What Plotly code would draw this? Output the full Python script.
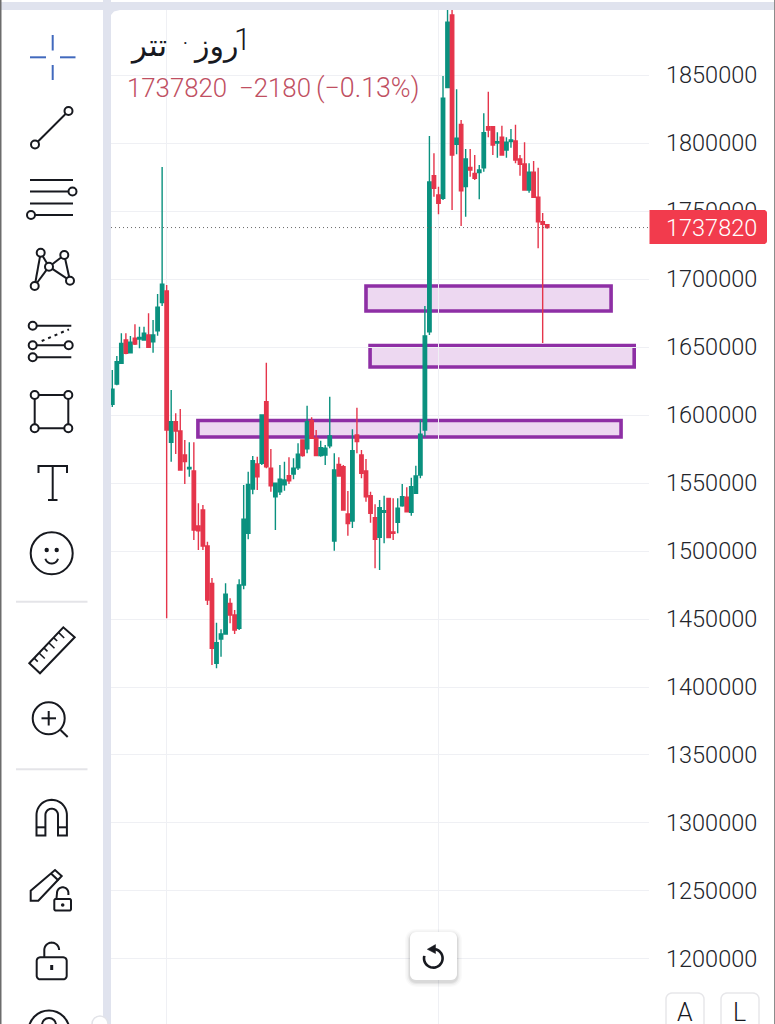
import math
import plotly.graph_objects as go

W, H = 775, 1024

open_ = [1607900,1622800,1638000,1655100,1645800,1656400,1655900,1655100,1658800,1653900,1662000,1682600,1691200,1579900,1595100,1588200,1570600,1560500,1558800,1518400,1530100,1503700,1476200,1417400,1435300,1439000,1461500,1452900,1443200,1475000,1513000,1545600,1564000,1564500,1609800,1560800,1539900,1543600,1548700,1555400,1556600,1561200,1581600,1575200,1595800,1582900,1570100,1570600,1577400,1507400,1563700,1562000,1527200,1522100,1585300,1570600,1558800,1540700,1524500,1510100,1528500,1538700,1514000,1521100,1533300,1539500,1528500,1542400,1555900,1589000,1661200,1776000,1761800,1759300,1840700,1894100,1799000,1813700,1767900,1782100,1777700,1778200,1781800,1812000,1812000,1800000,1804200,1794900,1801000,1801500,1788200,1784600,1765400,1778500,1760100,1742100,1740000]
high = [1633100,1643400,1660100,1660100,1658100,1666700,1664900,1664900,1674800,1669900,1689000,1782400,1695600,1618400,1601200,1604400,1581600,1579900,1579900,1535100,1533800,1506800,1480100,1447300,1442400,1476200,1465200,1456600,1479200,1548500,1558300,1569900,1569300,1600400,1638500,1575000,1550200,1563200,1565700,1568900,1568200,1579200,1582000,1606800,1598300,1589000,1581100,1577900,1613500,1571800,1568900,1563200,1544100,1589500,1605400,1574300,1567600,1543600,1534300,1537500,1540700,1539200,1538700,1538700,1549300,1546800,1553900,1562700,1596300,1680100,1805100,1792400,1767900,1849300,1897800,1897800,1839500,1816900,1795600,1795600,1791200,1783800,1821800,1837700,1812500,1807900,1812700,1804200,1810300,1813500,1791200,1800500,1785100,1786800,1781800,1748500,1740000]
low = [1605900,1621800,1637500,1644600,1645500,1651500,1649000,1654600,1649500,1645800,1658300,1680100,1450500,1565700,1571300,1559200,1549300,1554600,1508100,1500700,1500700,1460300,1416200,1413700,1422300,1438700,1446800,1439000,1441900,1471800,1508600,1541700,1544900,1563200,1560800,1543600,1515400,1541200,1544300,1549300,1552700,1559600,1569300,1571800,1582400,1569900,1569300,1563200,1575500,1500200,1554900,1529900,1511200,1516900,1571800,1553500,1536200,1520800,1487300,1486000,1505700,1509300,1508100,1513000,1532600,1528500,1526000,1541900,1553500,1584000,1658800,1760500,1747600,1758100,1840400,1750700,1791700,1739000,1745800,1775200,1772800,1758600,1778900,1804200,1791200,1789200,1790700,1789200,1796500,1785100,1776000,1764900,1763500,1759800,1722600,1652900,1737000]
close = [1618900,1639200,1652700,1645400,1653500,1652200,1657100,1660100,1649800,1658800,1679200,1696100,1589000,1595100,1588200,1559600,1565700,1561500,1515400,1514900,1503700,1464000,1428500,1432600,1439000,1468200,1452900,1441900,1475000,1523300,1549000,1566400,1554600,1600000,1562000,1548000,1549800,1552700,1552200,1551700,1560800,1571100,1570100,1595100,1582900,1570100,1576000,1575500,1584600,1559600,1555100,1530100,1520100,1573700,1580400,1557100,1539900,1527700,1508600,1531800,1529600,1509800,1513000,1531400,1539900,1528900,1547300,1555100,1585800,1658100,1771300,1766700,1755700,1832900,1888800,1791200,1803500,1764900,1788200,1780100,1774000,1780100,1807600,1809600,1798500,1801000,1791200,1800500,1802200,1787500,1784300,1765400,1778500,1760100,1742100,1740200,1737820]
candle_index = list(range(len(open_)))

y_ticks = [1200000,1250000,1300000,1350000,1400000,1450000,1500000,1550000,1600000,1650000,1700000,1750000,1800000,1850000]
grid_candles = [12, 72]
last_price = 1737820
zone_start = [56.0, 56.9, 18.9]
zone_end = [110.1, 115.2, 112.3]
zone_top = [1694900, 1651100, 1596000]
zone_bottom = [1676500, 1635300, 1583800]

title_parts = ["تتر", "·", "روز", "1"]
price_line = ["1737820", "−2180", "(−0.13%)"]

INK = "#17191f"
LAV = "#e0e3ee"
ZONE_LINE = "#8e2fa5"
ZONE_FILL = "rgba(206,147,216,0.36)"
GREEN = "#0a917f"
RED = "#e5354b"


def X(x):
    return x / W


def Y(y):
    return 1 - y / H


def P(points, closed=False):
    s = "M" + " L".join(f"{X(a):.5f},{Y(b):.5f}" for a, b in points)
    return s + (" Z" if closed else "")


def arc(cx, cy, r, a0, a1, n=28):
    return [(cx + r * math.cos(math.radians(a0 + (a1 - a0) * k / n)),
             cy + r * math.sin(math.radians(a0 + (a1 - a0) * k / n))) for k in range(n + 1)]


def rrect(x0, y0, x1, y1, r, corners=(1, 1, 1, 1)):
    pts = []
    cs = [(x1 - r, y0 + r, -90, 0, corners[0], (x1, y0)),
          (x1 - r, y1 - r, 0, 90, corners[1], (x1, y1)),
          (x0 + r, y1 - r, 90, 180, corners[2], (x0, y1)),
          (x0 + r, y0 + r, 180, 270, corners[3], (x0, y0))]
    for cx, cy, a, b, on, sharp in cs:
        pts += arc(cx, cy, r, a, b, 6) if on else [sharp]
    return pts


shapes = []


def path(points, color=INK, width=2, closed=False, fill=None, dash=None):
    line = dict(color=color, width=width)
    if dash:
        line["dash"] = dash
    shapes.append(dict(type="path", xref="paper", yref="paper", path=P(points, closed),
                       line=line, fillcolor=fill if fill else "rgba(0,0,0,0)", layer="above"))


def seg(x0, y0, x1, y1, color=INK, width=2, dash=None):
    path([(x0, y0), (x1, y1)], color, width, False, None, dash)


def circ(cx, cy, r, color=INK, width=2, fill="#ffffff"):
    shapes.append(dict(type="circle", xref="paper", yref="paper", x0=X(cx - r), x1=X(cx + r),
                       y0=Y(cy + r), y1=Y(cy - r), line=dict(color=color, width=width),
                       fillcolor=fill, layer="above"))


def block(x0, y0, x1, y1, color):
    shapes.append(dict(type="rect", xref="paper", yref="paper", x0=X(x0), x1=X(x1), y0=Y(y1), y1=Y(y0),
                       line=dict(width=0), fillcolor=color, layer="above"))


# page frame
block(0, 2, W, 10, LAV)
block(103, 0, 111, H, LAV)
path([(111, 10), (120, 10), (114, 11.5), (111, 15), (111, 20)], LAV, 0, True, LAV)
block(0, 0, 1.5, H, "#6c6c6c")
block(774, 0, W, H, "#8c8c8c")

# zones
for x0, x1, y0, y1 in zip(zone_start, zone_end, zone_bottom, zone_top):
    shapes.append(dict(type="rect", xref="x", yref="y", x0=x0, x1=x1, y0=y0, y1=y1,
                       line=dict(color=ZONE_LINE, width=3.6), fillcolor=ZONE_FILL, layer="below"))

# last price line and tag
shapes.append(dict(type="line", xref="paper", yref="y", x0=X(111), x1=X(649), y0=last_price, y1=last_price,
                   line=dict(color="#6a6a6a", width=1, dash="1px,3px"), layer="above"))
path(rrect(649.5, 210, 767, 244, 3, (1, 1, 0, 0)), "#f23b4d", 0, True, "#f23b4d")

# toolbar: crosshair
BLUE = "#4169bd"
seg(52.7, 35, 52.7, 50.5, BLUE); seg(52.7, 65, 52.7, 80, BLUE)
seg(30, 57.3, 46, 57.3, BLUE); seg(60, 57.3, 75.5, 57.3, BLUE)
# trend line
seg(35, 144.5, 68.5, 111); circ(35, 144.5, 4); circ(68.5, 111, 4)
# parallel lines
seg(30, 180, 73, 180); seg(30, 191.5, 70, 191.5); seg(30, 203.5, 73, 203.5); seg(32, 215, 73, 215)
circ(72.5, 191.5, 4); circ(31, 215, 4)
# pattern
pts = [(40.7, 252.7), (64.3, 255), (49, 266.7), (70, 280.7), (34.7, 286)]
for a, b in [(4, 0), (0, 2), (4, 2), (2, 1), (2, 3), (1, 3)]:
    seg(*pts[a], *pts[b])
for a, b in pts:
    circ(a, b, 4)
# channel
seg(33, 325.7, 71.3, 325.7); seg(33, 345.3, 69, 345.3); seg(33, 357.3, 71.3, 357.3)
seg(41.7, 341, 69, 329.3, INK, 2, "3px,4px")
circ(32.7, 325.7, 4); circ(32.7, 345.3, 4); circ(68.7, 345.3, 4); circ(32.7, 357.3, 4)
# rectangle
path([(34.7, 395), (68.3, 395), (68.3, 428.3), (34.7, 428.3)], INK, 2, True)
for a, b in [(34.7, 395), (68.3, 395), (34.7, 428.3), (68.3, 428.3)]:
    circ(a, b, 4)
# text tool
path([(38.5, 473), (38.5, 466), (67, 466), (67, 473)])
seg(52.7, 466, 52.7, 500); seg(48, 500, 57.5, 500)
# smile
circ(51.7, 553.3, 21, fill="rgba(0,0,0,0)")
circ(46.7, 550, 1.2, fill=INK); circ(56.7, 550, 1.2, fill=INK)
path(arc(51.7, 557, 6.5, 15, 165))
# dividers
seg(16, 601.7, 87.5, 601.7, "#e4e4e8"); seg(16, 769.3, 87.5, 769.3, "#e4e4e8")
# ruler
path([(29.3, 663.3), (63.3, 627.3), (74.7, 637.3), (40, 673.3)], INK, 2, True)
for k in range(1, 7):
    ax = 29.3 + (63.3 - 29.3) * k / 7
    ay = 663.3 + (627.3 - 663.3) * k / 7
    ln = 8 if k % 2 == 0 else 5
    seg(ax, ay, ax + ln * 0.72, ay + ln * 0.69, INK, 1.6)
# zoom
circ(48.7, 718.3, 16, fill="rgba(0,0,0,0)")
seg(41.5, 718.3, 56, 718.3); seg(48.7, 711, 48.7, 725.5); seg(60.5, 730, 67.7, 737)
# magnet
path(arc(51.7, 815, 15.2, 180, 360) + [(66.9, 835.5), (58, 835.5)] + arc(51.7, 815, 6.3, 360, 180) + [(45.4, 835.5), (36.5, 835.5)], INK, 2, True)
seg(36.5, 827.3, 45.4, 827.3); seg(58, 827.3, 66.9, 827.3)
# pencil and small lock
path([(30.7, 900.7), (30.7, 890.7), (55, 870), (61.7, 876), (38.3, 900.7)], INK, 2, True)
seg(51, 873.5, 58.5, 880.5)
path(rrect(54.3, 899, 71, 910.5, 1.5), INK, 2, True)
path([(56.5, 898.5)] + arc(62.7, 893, 5.7, 180, 360) + [(68.4, 895)], INK, 2)
circ(62.7, 905, 0.8, fill=INK)
# lock
path(rrect(36.7, 957.3, 66.7, 979.3, 3.5), INK, 2, True)
path([(44.3, 957)] + arc(51.7, 950, 7.4, 180, 360), INK, 2)
seg(51.7, 965, 51.7, 970, INK, 3)
# partial icon at the bottom edge
circ(49, 1031, 20.5, fill="rgba(0,0,0,0)")
circ(49, 1025, 7, fill="rgba(0,0,0,0)")
circ(100, 1024, 8, "#e2e3e8", 1.5, "#ffffff")

# reset button
for grow, alpha in [(5, 0.02), (3.5, 0.03), (2, 0.05), (1, 0.05)]:
    path(rrect(410 - grow, 932 - grow + 2, 457 + grow, 980 + grow + 2, 6 + grow), "#000000", 0, True, f"rgba(0,0,0,{alpha})")
path(rrect(410, 932, 457, 980, 6), "#ffffff", 0, True, "#ffffff")
path(arc(433.3, 958.3, 9.3, -80, 195), INK, 2.6)
path([(435.5, 944.6), (435.5, 953.5), (427.3, 949.3)], INK, 0.5, True, INK)

# axis mode buttons
for x0, x1 in [(666, 704), (721, 759)]:
    path(rrect(x0, 993, x1, 1040, 6), "#e7e7ea", 1.5, True)

candles = go.Candlestick(
    x=candle_index, open=open_, high=high, low=low, close=close,
    increasing=dict(line=dict(color=GREEN, width=1.4), fillcolor=GREEN),
    decreasing=dict(line=dict(color=RED, width=1.4), fillcolor=RED),
    whiskerwidth=0, hoverinfo="skip", showlegend=False,
)


def label(text, x, y, size, color="#23252b", anchor="left", family="Roboto", weight=300):
    return dict(text=text, xref="paper", yref="paper", x=X(x), y=Y(y), xanchor=anchor, yanchor="middle",
                showarrow=False, font=dict(family=family, size=size, color=color, weight=weight))


ARABIC = "DejaVu Sans, Noto Sans"
PRICE = "#c04f62"
annotations = [
    label(title_parts[0], 148, 45, 31, INK, "center", ARABIC, 400),
    label(title_parts[1], 185, 43, 18, INK, "center", "Roboto", 400),
    label(title_parts[2], 216, 46, 30, INK, "center", ARABIC, 400),
    label(title_parts[3], 242, 39, 31, INK, "center", "Roboto", 300),
    label(price_line[0], 124.5, 88, 25.8, PRICE),
    label(price_line[1], 236.5, 88, 25.8, PRICE),
    label(price_line[2], 314, 88, 26.8, PRICE),
    label("A", 685, 1012, 25, INK, "center"),
    label("L", 739.5, 1012, 25, INK, "center"),
    dict(text=f"{last_price}", xref="paper", yref="y", x=X(711), y=last_price, xanchor="center", yanchor="middle",
         showarrow=False, font=dict(family="Roboto", size=23.5, color="#ffffff", weight=300)),
]

fig = go.Figure(candles)
fig.update_layout(
    width=W, height=H, autosize=False, margin=dict(l=0, r=0, t=0, b=0, pad=0),
    paper_bgcolor="#ffffff", plot_bgcolor="#ffffff", showlegend=False, boxgap=0.25, boxgroupgap=0,
    shapes=shapes, annotations=annotations,
    xaxis=dict(domain=[111 / W, 649 / W], range=[-0.287, 118.47], rangeslider=dict(visible=False),
               tickmode="array", tickvals=grid_candles, showticklabels=False, ticks="",
               showgrid=True, gridcolor="#eff0f4", gridwidth=1, zeroline=False, showline=False),
    yaxis=dict(domain=[0, 1 - 10 / H], range=[1152200, 1897795], side="right",
               tickmode="array", tickvals=y_ticks, ticktext=[str(v) for v in y_ticks],
               tickfont=dict(family="Roboto", size=23.5, color="#23252b", weight=300),
               ticklabelstandoff=16, ticks="", showgrid=True, gridcolor="#eff0f4", gridwidth=1,
               zeroline=False, showline=False),
)
fig.write_html("out.html", config=dict(displayModeBar=False),
               post_script="document.body.style.margin='0';document.documentElement.style.overflow='hidden';")
